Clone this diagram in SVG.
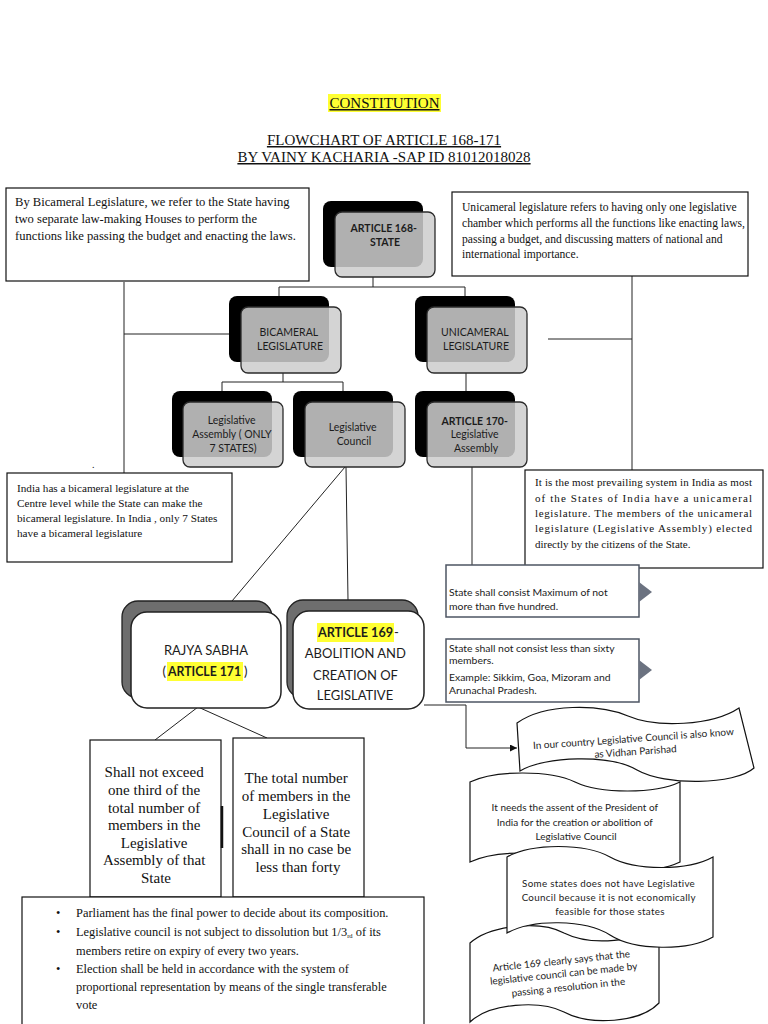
<svg xmlns="http://www.w3.org/2000/svg" width="768" height="1024" viewBox="0 0 768 1024">
<defs>
<style>
.tm{font-family:"Liberation Serif","Times New Roman",serif;fill:#111}
.cb{font-family:Lato,"Noto Sans",sans-serif;fill:#1c1c1c}
.box{fill:#fff;stroke:#111;stroke-width:1.2}
.shadow{fill:#000}
.front{fill:#cdcdcd;fill-opacity:0.86;stroke:#2b2b2b;stroke-width:1.3}
.ln{stroke:#222;stroke-width:1;fill:none}
.sbox{fill:#fff;stroke:#4d5563;stroke-width:1.5}
.tri{fill:#6b7280}
.wave{fill:#fff;stroke:#111;stroke-width:1.2}
.hl{fill:#ffff33}
.back2{fill:#6e6e6e;stroke:#222;stroke-width:1.3}
.front2{fill:#fff;stroke:#222;stroke-width:1.5}
</style>
<marker id="arr" viewBox="0 0 10 10" refX="10" refY="5" markerWidth="7" markerHeight="7" orient="auto" markerUnits="userSpaceOnUse">
<path d="M0,0 L10,5 L0,10 Z" fill="#111"/>
</marker>
</defs>
<rect width="768" height="1024" fill="#fff"/>

<g id="title">
<rect class="hl" x="328" y="94" width="113" height="18"/>
<text class="tm" x="384.5" y="108" font-size="15" text-anchor="middle" text-decoration="underline">CONSTITUTION</text>
<text class="tm" x="384" y="145" font-size="15" text-anchor="middle" text-decoration="underline">FLOWCHART OF ARTICLE 168-171</text>
<text class="tm" x="384" y="162" font-size="15" text-anchor="middle" text-decoration="underline">BY VAINY KACHARIA -SAP ID 81012018028</text>
</g>

<g id="connectors">
<path class="ln" d="M373,277 V287 M279,287 H465 M279,287 V296 M465,287 V296"/>
<path class="ln" d="M124,282 V473 M124,334 H230"/>
<path class="ln" d="M632,276 V470 M548,339 H632"/>
<path class="ln" d="M283,373 V382 M222,382 H343 M222,382 V391 M343,382 V391"/>
<path class="ln" d="M466,373 V391"/>
<path class="ln" d="M472,467 V576" marker-end="url(#arr)"/>
<path class="ln" d="M345,467 L232,601 M346,467 L348,600"/>
<path class="ln" d="M424,705 H466 V748 H517" marker-end="url(#arr)"/>
<path class="ln" d="M198,707 L155,740 M198,707 L267,738"/>
</g>

<g id="note-bicameral">
<rect class="box" x="6" y="188" width="303" height="93"/>
<text class="tm" font-size="12.6">
<tspan x="15" y="206">By Bicameral Legislature, we refer to the State having</tspan>
<tspan x="15" y="223">two separate law-making Houses to perform the</tspan>
<tspan x="15" y="240">functions like passing the budget and enacting the laws.</tspan>
</text>
</g>

<g id="note-unicameral">
<rect class="box" x="452" y="192" width="296" height="84"/>
<text class="tm" font-size="11.6">
<tspan x="462" y="211">Unicameral legislature refers to having only one legislative</tspan>
<tspan x="462" y="227">chamber which performs all the functions like enacting laws,</tspan>
<tspan x="462" y="243">passing a budget, and discussing matters of national and</tspan>
<tspan x="462" y="258">international importance.</tspan>
</text>
</g>

<g id="art168">
<rect class="shadow" x="323" y="201" width="100" height="66" rx="8"/>
<rect class="front" x="335" y="212" width="100" height="65" rx="7"/>
<text class="cb" font-size="10.5" font-weight="bold" text-anchor="middle">
<tspan x="385" y="232">ARTICLE 168-</tspan>
<tspan x="385" y="246">STATE</tspan>
</text>
</g>

<g id="bicameral">
<rect class="shadow" x="229" y="296" width="100" height="66" rx="8"/>
<rect class="front" x="241" y="307" width="100" height="66" rx="7"/>
<text class="cb" font-size="10.5" text-anchor="middle">
<tspan x="290" y="336">BICAMERAL</tspan>
<tspan x="290" y="350">LEGISLATURE</tspan>
</text>
</g>

<g id="unicameral">
<rect class="shadow" x="415" y="296" width="100" height="66" rx="8"/>
<rect class="front" x="427" y="307" width="100" height="66" rx="7"/>
<text class="cb" font-size="10.5" text-anchor="middle">
<tspan x="476" y="336">UNICAMERAL</tspan>
<tspan x="476" y="350">LEGISLATURE</tspan>
</text>
</g>

<g id="leg-assembly">
<rect class="shadow" x="172" y="391" width="100" height="66" rx="8"/>
<rect class="front" x="183" y="402" width="100" height="65" rx="7"/>
<text class="cb" font-size="10.5" text-anchor="middle">
<tspan x="233" y="424">Legislative</tspan>
<tspan x="233" y="438">Assembly ( ONLY</tspan>
<tspan x="233" y="452">7 STATES)</tspan>
</text>
</g>

<g id="leg-council">
<rect class="shadow" x="293" y="391" width="100" height="66" rx="8"/>
<rect class="front" x="305" y="402" width="100" height="65" rx="7"/>
<text class="cb" font-size="10.5" text-anchor="middle">
<tspan x="354" y="431">Legislative</tspan>
<tspan x="354" y="445">Council</tspan>
</text>
</g>

<g id="art170">
<rect class="shadow" x="415" y="391" width="100" height="66" rx="8"/>
<rect class="front" x="427" y="402" width="100" height="65" rx="7"/>
<text class="cb" font-size="10.5" text-anchor="middle">
<tspan x="476" y="425" font-weight="bold">ARTICLE 170-</tspan>
<tspan x="476" y="438">Legislative</tspan>
<tspan x="476" y="452">Assembly</tspan>
</text>
</g>

<g id="note-india">
<text class="tm" x="92" y="468" font-size="10">.</text>
<rect class="box" x="7" y="473" width="225" height="89"/>
<text class="tm" font-size="11.2">
<tspan x="17" y="492">India has a bicameral legislature at the</tspan>
<tspan x="17" y="507">Centre level while the State can make the</tspan>
<tspan x="17" y="522">bicameral legislature. In India , only 7 States</tspan>
<tspan x="17" y="537">have a bicameral legislature</tspan>
</text>
</g>

<g id="note-prevailing">
<rect class="box" x="525" y="470" width="238" height="98"/>
<text class="tm" font-size="11">
<tspan x="535" y="486" textLength="217" lengthAdjust="spacing">It is the most prevailing system in India as most</tspan>
<tspan x="535" y="502" textLength="217" lengthAdjust="spacing">of the States of India have a unicameral</tspan>
<tspan x="535" y="517" textLength="217" lengthAdjust="spacing">legislature. The members of the unicameral</tspan>
<tspan x="535" y="532" textLength="217" lengthAdjust="spacing">legislature (Legislative Assembly) elected</tspan>
<tspan x="535" y="548">directly by the citizens of the State.</tspan>
</text>
</g>

<g id="box-max">
<rect class="sbox" x="446" y="565" width="193" height="52"/>
<path class="tri" d="M639,582 L652,592 L639,602 Z"/>
<text class="cb" font-size="10.4">
<tspan x="449" y="596">State shall consist Maximum of not</tspan>
<tspan x="449" y="610">more than five hundred.</tspan>
</text>
</g>

<g id="box-min">
<rect class="sbox" x="446" y="639" width="193" height="63"/>
<path class="tri" d="M639,660 L652,670 L639,680 Z"/>
<text class="cb" font-size="10.4">
<tspan x="449" y="652">State shall not consist less than sixty</tspan>
<tspan x="449" y="664">members.</tspan>
<tspan x="449" y="681">Example: Sikkim, Goa, Mizoram and</tspan>
<tspan x="449" y="694">Arunachal Pradesh.</tspan>
</text>
</g>

<g id="rajya">
<rect class="back2" x="122" y="601" width="150" height="97" rx="16"/>
<rect class="front2" x="131" y="612" width="150" height="96" rx="16"/>
<text class="cb" font-size="13" x="206" y="655" text-anchor="middle">RAJYA SABHA</text>
<rect class="hl" x="167" y="662" width="76" height="19"/>
<text class="cb" font-size="13" x="166" y="676" text-anchor="end">(</text>
<text class="cb" font-size="13" font-weight="bold" x="168" y="676" textLength="73" lengthAdjust="spacingAndGlyphs">ARTICLE 171</text>
<text class="cb" font-size="13" x="244" y="676">)</text>
</g>

<g id="art169">
<rect class="back2" x="287" y="600" width="131" height="98" rx="16"/>
<rect class="front2" x="293" y="611" width="131" height="98" rx="16"/>
<rect class="hl" x="317" y="623" width="77" height="19"/>
<text class="cb" font-size="13" font-weight="bold" x="318" y="637" textLength="75" lengthAdjust="spacingAndGlyphs">ARTICLE 169</text>
<text class="cb" font-size="13" x="394" y="637">-</text>
<text class="cb" font-size="13" text-anchor="middle">
<tspan x="357" y="658">ABOLITION AND</tspan>
<tspan x="357" y="680">CREATION OF</tspan>
<tspan x="355" y="700">LEGISLATIVE</tspan>
</text>
</g>

<g id="rs-third">
<rect class="box" x="90" y="740" width="131" height="157"/>
<line x1="222" y1="806" x2="222" y2="848" stroke="#111" stroke-width="2.5"/>
<text class="tm" font-size="15" text-anchor="middle">
<tspan x="156" y="777">Shall not exceed</tspan>
<tspan x="156" y="795">one third of the</tspan>
<tspan x="156" y="813">total number of</tspan>
<tspan x="156" y="830">members in the</tspan>
<tspan x="156" y="848">Legislative</tspan>
<tspan x="156" y="865">Assembly of that</tspan>
<tspan x="156" y="883">State</tspan>
</text>
</g>

<g id="lc-forty">
<rect class="box" x="233" y="738" width="131" height="159"/>
<text class="tm" font-size="15" text-anchor="middle">
<tspan x="298" y="783">The total number</tspan>
<tspan x="298" y="801">of members in the</tspan>
<tspan x="298" y="819">Legislative</tspan>
<tspan x="298" y="837">Council of a State</tspan>
<tspan x="298" y="854">shall in no case be</tspan>
<tspan x="298" y="872">less than forty</tspan>
</text>
</g>

<g id="bullets">
<rect class="box" x="22" y="897" width="402" height="140"/>
<g class="tm" font-size="12.4">
<text x="56" y="917">•</text>
<text x="76" y="917">Parliament has the final power to decide about its composition.</text>
<text x="56" y="936">•</text>
<text x="76" y="936">Legislative council is not subject to dissolution but 1/3<tspan font-size="6.5" dy="1.5">rd</tspan><tspan dy="-1.5"> of its</tspan></text>
<text x="76" y="955">members retire on expiry of every two years.</text>
<text x="56" y="973">•</text>
<text x="76" y="973">Election shall be held in accordance with the system of</text>
<text x="76" y="991">proportional representation by means of the single transferable</text>
<text x="76" y="1009">vote</text>
</g>
</g>

<g id="wave-vidhan">
<path class="wave" d="M517,723 C545,703 600,704 628,716 C656,728 712,726 739,708 L754,768 C735,785 665,786 637,770 C610,754 545,756 520,771 Z"/>
<text class="cb" font-size="10" text-anchor="middle" transform="rotate(-4 635 745)">
<tspan x="635" y="742">In our country Legislative Council is also know</tspan>
<tspan x="635" y="755">as Vidhan Parishad</tspan>
</text>
</g>

<g id="wave-assent">
<path class="wave" d="M470,782 C495,770 550,770 575,782 C600,794 655,794 680,782 L680,862 C655,874 600,874 575,862 C550,850 495,850 470,862 Z"/>
<text class="cb" font-size="10" text-anchor="middle">
<tspan x="576" y="811">It needs the assent of the President of</tspan>
<tspan x="576" y="826">India for the creation or abolition of</tspan>
<tspan x="576" y="840">Legislative Council</tspan>
</text>
</g>

<g id="wave-resolution">
<path class="wave" d="M470,943 C490,925 540,920 564,933 C590,946 640,943 659,923 L659,1003 C640,1023 590,1026 564,1012 C540,1000 490,1003 470,1022 Z"/>
<text class="cb" font-size="10" text-anchor="middle" transform="rotate(-6 565 975)">
<tspan x="564" y="964">Article 169 clearly says that the</tspan>
<tspan x="565" y="977">legislative council can be made by</tspan>
<tspan x="567" y="991">passing a resolution in the</tspan>
</text>
</g>

<g id="wave-economic">
<path class="wave" d="M507,857 C532,843 585,843 610,857 C635,871 688,871 713,857 L713,937 C688,951 635,951 610,935 C585,919 532,919 507,933 Z"/>
<text class="cb" font-size="9.8" text-anchor="middle" letter-spacing="0.3">
<tspan x="610" y="887">Some states does not have Legislative</tspan>
<tspan x="610" y="901">Council because it is not economically</tspan>
<tspan x="610" y="915">feasible for those states</tspan>
</text>
</g>
</svg>
